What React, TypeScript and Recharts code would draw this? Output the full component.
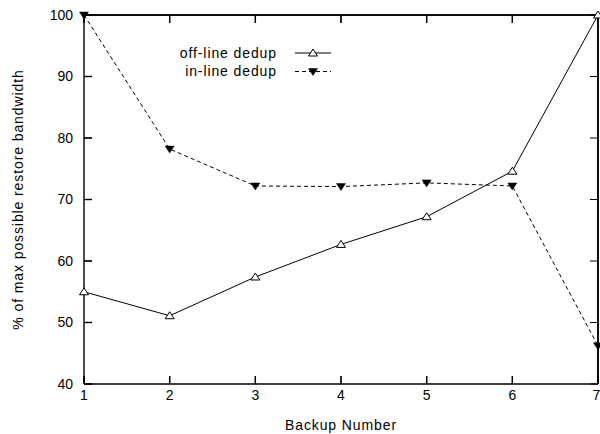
import React from "react";
import { LineChart, Line, XAxis, YAxis, ReferenceLine } from "recharts";

const backups = [1, 2, 3, 4, 5, 6, 7];
const offlineDedup = [55, 51.1, 57.4, 62.7, 67.2, 74.6, 100];
const inlineDedup = [100, 78.2, 72.2, 72.1, 72.7, 72.2, 46.2];
const xTicks = [1, 2, 3, 4, 5, 6, 7];
const yTicks = [40, 50, 60, 70, 80, 90, 100];
const seriesNames = ["off-line dedup", "in-line dedup"];

const data = backups.map((b, i) => ({ backup: b, offline: offlineDedup[i], inline: inlineDedup[i] }));

const W = 600;
const H = 434;
const LEFT = 84;
const RIGHT = 598;
const TOP = 15;
const BOTTOM = 384;
const TICK = 8;
const FONT = "'Liberation Sans', Arial, Helvetica, sans-serif";
const TICK_FONT = { fontSize: 14, fill: "#000", fontFamily: FONT };
const blank = () => "";

const X_MIN = xTicks[0];
const X_MAX = xTicks[xTicks.length - 1];
const Y_MIN = yTicks[0];
const Y_MAX = yTicks[yTicks.length - 1];

// inward tick stubs at both ends of a horizontal reference line
const hStubs = (p: any) => {
  const { x1, x2, y1 } = p;
  if (x1 == null || x2 == null || y1 == null) return <g />;
  const a = Math.min(x1, x2);
  const b = Math.max(x1, x2);
  return (
    <g>
      <line x1={a} x2={a + TICK} y1={y1} y2={y1} stroke="#000" strokeWidth={1} />
      <line x1={b - TICK} x2={b} y1={y1} y2={y1} stroke="#000" strokeWidth={1} />
    </g>
  );
};
// inward tick stubs at both ends of a vertical reference line
const vStubs = (p: any) => {
  const { x1, y1, y2 } = p;
  if (x1 == null || y1 == null || y2 == null) return <g />;
  const a = Math.min(y1, y2);
  const b = Math.max(y1, y2);
  return (
    <g>
      <line x1={x1} x2={x1} y1={a} y2={a + TICK} stroke="#000" strokeWidth={1} />
      <line x1={x1} x2={x1} y1={b - TICK} y2={b} stroke="#000" strokeWidth={1} />
    </g>
  );
};

const TriUp = (p: any) => {
  const { cx, cy } = p;
  if (cx == null || cy == null) return null;
  return (
    <path
      d={`M${cx},${cy - 4} L${cx + 4.5},${cy + 3} L${cx - 4.5},${cy + 3} Z`}
      fill="#fff"
      stroke="#000"
      strokeWidth={1}
    />
  );
};
const TriDown = (p: any) => {
  const { cx, cy } = p;
  if (cx == null || cy == null) return null;
  return (
    <path
      d={`M${cx - 4.5},${cy - 3} L${cx + 4.5},${cy - 3} L${cx},${cy + 4} Z`}
      fill="#000"
      stroke="#000"
      strokeWidth={0.5}
    />
  );
};

const Overlay = () => (
  <svg width={W} height={H} style={{ position: "absolute", left: 0, top: 0, pointerEvents: "none" }}>
    <g transform="translate(170,42)">
      <text x={107} y={16} textAnchor="end" fontSize={14} letterSpacing={0.9} fontFamily={FONT} fill="#000">
        {seriesNames[0]}
      </text>
      <line x1={125} x2={161} y1={11} y2={11} stroke="#000" strokeWidth={1} />
      <TriUp cx={143} cy={11} />
      <text x={107} y={34} textAnchor="end" fontSize={14} letterSpacing={0.9} fontFamily={FONT} fill="#000">
        {seriesNames[1]}
      </text>
      <line x1={125} x2={161} y1={29.5} y2={29.5} stroke="#000" strokeWidth={1} strokeDasharray="4 3" />
      <TriDown cx={143} cy={29.5} />
    </g>
    <text
      x={18}
      y={(TOP + BOTTOM) / 2}
      transform={`rotate(-90, 18, ${(TOP + BOTTOM) / 2})`}
      textAnchor="middle"
      dominantBaseline="central"
      fontSize={14}
      letterSpacing={0.9}
      fontFamily={FONT}
      fill="#000"
    >
      % of max possible restore bandwidth
    </text>
    <text x={(LEFT + RIGHT) / 2} y={430} textAnchor="middle" fontSize={14} letterSpacing={0.9} fontFamily={FONT} fill="#000">
      Backup Number
    </text>
  </svg>
);

export default function App() {
  return (
    <div style={{ position: "absolute", left: 0, top: 0, width: W, height: H }}>
      <LineChart width={W} height={H} data={data} margin={{ top: TOP - 1, right: W - RIGHT - 1, left: 0, bottom: 0 }}>
        <XAxis
          dataKey="backup"
          type="number"
          domain={[X_MIN, X_MAX]}
          ticks={xTicks}
          height={H - BOTTOM}
          stroke="#000"
          strokeWidth={1.4}
          tickSize={-TICK}
          tickMargin={6 + TICK}
          tick={TICK_FONT}
        />
        <XAxis
          xAxisId="top"
          orientation="top"
          dataKey="backup"
          type="number"
          domain={[X_MIN, X_MAX]}
          ticks={xTicks}
          height={1}
          stroke="#000"
          strokeWidth={1.4}
          tickSize={-TICK}
          tickFormatter={blank}
        />
        <YAxis
          type="number"
          domain={[Y_MIN, Y_MAX]}
          ticks={yTicks}
          width={LEFT}
          stroke="#000"
          strokeWidth={1.4}
          tickSize={-TICK}
          tickMargin={11 + TICK}
          tick={TICK_FONT}
        />
        <YAxis
          yAxisId="right"
          orientation="right"
          type="number"
          domain={[Y_MIN, Y_MAX]}
          ticks={yTicks}
          width={1}
          stroke="#000"
          strokeWidth={1.4}
          tickSize={-TICK}
          tickFormatter={blank}
        />
        <ReferenceLine y={Y_MAX} stroke="#000" strokeWidth={1.6} />
        <ReferenceLine x={X_MAX} stroke="#000" strokeWidth={1.6} />
        {yTicks.map((v) => (
          <ReferenceLine key={`yt${v}`} y={v} stroke="#000" shape={hStubs} />
        ))}
        {xTicks.map((v) => (
          <ReferenceLine key={`xt${v}`} x={v} stroke="#000" shape={vStubs} />
        ))}
        <Line
          name={seriesNames[0]}
          dataKey="offline"
          stroke="#000"
          strokeWidth={1}
          dot={<TriUp />}
          activeDot={false}
          isAnimationActive={false}
        />
        <Line
          name={seriesNames[1]}
          dataKey="inline"
          stroke="#000"
          strokeWidth={1}
          strokeDasharray="4 3"
          dot={<TriDown />}
          activeDot={false}
          isAnimationActive={false}
        />
      </LineChart>
      <Overlay />
    </div>
  );
}
